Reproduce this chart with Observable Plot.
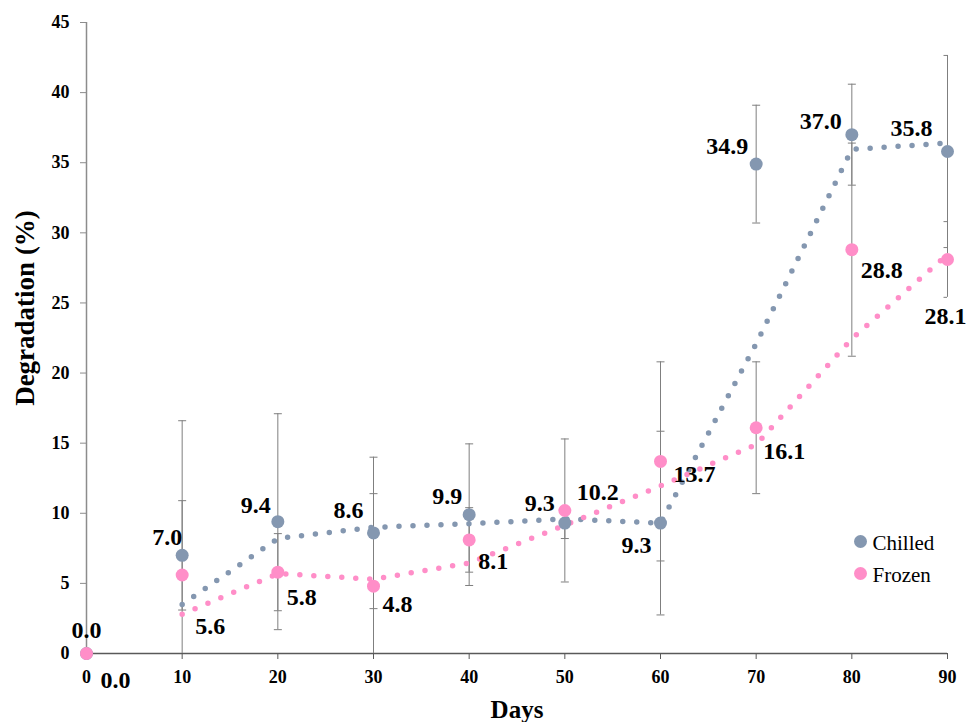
<!DOCTYPE html>
<html>
<head>
<meta charset="utf-8">
<script src="https://cdn.jsdelivr.net/npm/d3@7"></script>
<script src="https://cdn.jsdelivr.net/npm/@observablehq/plot@0.6"></script>
<style>
  html, body { margin: 0; padding: 0; background: #fff; }
  #chart svg { display: block; }
</style>
</head>
<body>
<div id="chart"></div>
<script>
// Storage time (days) and mean degradation (%) for each storage condition
const days = [0, 10, 20, 30, 40, 50, 60, 70, 80, 90];
const chilled = [0.0, 7.0, 9.4, 8.6, 9.9, 9.3, 9.3, 34.9, 37.0, 35.8];
const frozen = [0.0, 5.6, 5.8, 4.8, 8.1, 10.2, 13.7, 16.1, 28.8, 28.1];
// Standard deviations (error bars)
const chilledErr = [0, 3.9, 7.7, 5.4, 5.05, 1.1, 6.55, 4.2, 3.6, 6.85];
const frozenErr = [0, 11.0, 2.75, 6.6, 2.3, 5.1, 7.1, 4.7, 7.6, 2.7];
const seriesNames = ["Chilled", "Frozen"];
const xTicks = [0, 10, 20, 30, 40, 50, 60, 70, 80, 90];
const yTicks = [0, 5, 10, 15, 20, 25, 30, 35, 40, 45];

// Layout: value-label offsets in pixels [dx, dy to baseline, anchor]
const chilledLabelPos = [[29, 34, "middle"], [0, -10, "end"], [-7, -9, "end"], [-10, -15, "end"], [-7, -11, "end"],
  [-10, -12, "end"], [-9, 30, "end"], [-8, -10, "end"], [-10, -6, "end"], [-15, -16, "end"]];
const frozenLabelPos = [[0, -16, "middle"], [13, 59, "start"], [9, 33, "start"], [9, 26, "start"], [9, 29, "start"],
  [12, -10, "start"], [13, 21, "start"], [7, 31, "start"], [9, 28, "start"], [-2, 65, "middle"]];

const colors = {Chilled: "#8497B0", Frozen: "#FF8EC8"};
const serif = "'Liberation Serif', 'Times New Roman', serif";

const rows = [];
days.forEach((d, i) => {
  rows.push({series: "Chilled", day: d, value: chilled[i], err: chilledErr[i], pos: chilledLabelPos[i]});
  rows.push({series: "Frozen", day: d, value: frozen[i], err: frozenErr[i], pos: frozenLabelPos[i]});
});
const withErr = rows.filter(r => r.err > 0);
const lowCaps = withErr.filter(r => r.value - r.err >= 0);

// horizontal cap for the error bars
const capSymbol = {draw(ctx) { ctx.moveTo(-4, 0); ctx.lineTo(4, 0); }};

const labelMarks = rows.map(r => Plot.text([r], {
  x: "day", y: "value", text: d => d.value.toFixed(1),
  dx: r.pos[0], dy: r.pos[1], textAnchor: r.pos[2], lineAnchor: "bottom",
  fontSize: 24, fontWeight: "bold", fill: "#000"
}));

const chart = Plot.plot({
  width: 967,
  height: 722,
  marginLeft: 86,
  marginRight: 20,
  marginTop: 22,
  marginBottom: 69,
  style: {fontFamily: serif, background: "#fff", color: "#000", overflow: "visible"},
  x: {domain: [0, 90]},
  y: {domain: [0, 45]},
  marks: [
    Plot.axisY({ticks: yTicks, tickSize: 6, tickPadding: 11, fontSize: 18, fontWeight: "bold",
      stroke: "#8c8c8c", fill: "#000", label: null}),
    Plot.axisX({ticks: xTicks, tickSize: 6, tickPadding: 11, fontSize: 18, fontWeight: "bold",
      stroke: "#595959", fill: "#000", label: null}),
    Plot.ruleX([0], {stroke: "#8c8c8c", strokeWidth: 1.5}),
    Plot.ruleY([0], {stroke: "#595959", strokeWidth: 1.5}),
    // error bars (cut off at the x axis)
    Plot.ruleX(withErr, {x: "day", y1: d => Math.max(0, d.value - d.err), y2: d => d.value + d.err,
      stroke: "#7f7f7f", strokeWidth: 1}),
    Plot.dot(withErr, {x: "day", y: d => d.value + d.err, symbol: capSymbol, stroke: "#7f7f7f", fill: "none", strokeWidth: 1, clip: true}),
    Plot.dot(lowCaps, {x: "day", y: d => d.value - d.err, symbol: capSymbol, stroke: "#7f7f7f", fill: "none", strokeWidth: 1, clip: true}),
    // two-period moving-average trend lines (dotted)
    ...seriesNames.map(s => Plot.line(rows.filter(r => r.series === s),
      Plot.windowY({k: 2, anchor: "end", strict: true}, {x: "day", y: "value",
        stroke: colors[s], strokeWidth: 5.5, strokeDasharray: "0 14", strokeLinecap: "round"}))),
    // data points
    ...seriesNames.map(s => Plot.dot(rows.filter(r => r.series === s), {
      x: "day", y: "value", r: 6.5, fill: colors[s], stroke: "none"})),
    ...labelMarks,
    // legend
    ...seriesNames.map((s, i) => Plot.dot([s], {frameAnchor: "bottom-right", dx: -87, dy: -112 + 32 * i,
      r: 6.5, fill: colors[s], stroke: "none"})),
    ...seriesNames.map((s, i) => Plot.text([s], {frameAnchor: "bottom-right", dx: -75, dy: -104 + 32 * i,
      text: d => d, textAnchor: "start", lineAnchor: "bottom", fontSize: 21, fill: "#000"})),
    // axis titles
    Plot.text(["Days"], {frameAnchor: "bottom", dy: 64, text: d => d, textAnchor: "middle", lineAnchor: "bottom",
      fontSize: 25, fontWeight: "bold", fill: "#000"}),
    Plot.text(["Degradation (%)"], {frameAnchor: "left", dx: -53, dy: -30, rotate: -90, text: d => d,
      textAnchor: "middle", lineAnchor: "bottom", fontSize: 27, fontWeight: "bold", fill: "#000"})
  ]
});
document.getElementById("chart").append(chart);
</script>
</body>
</html>
